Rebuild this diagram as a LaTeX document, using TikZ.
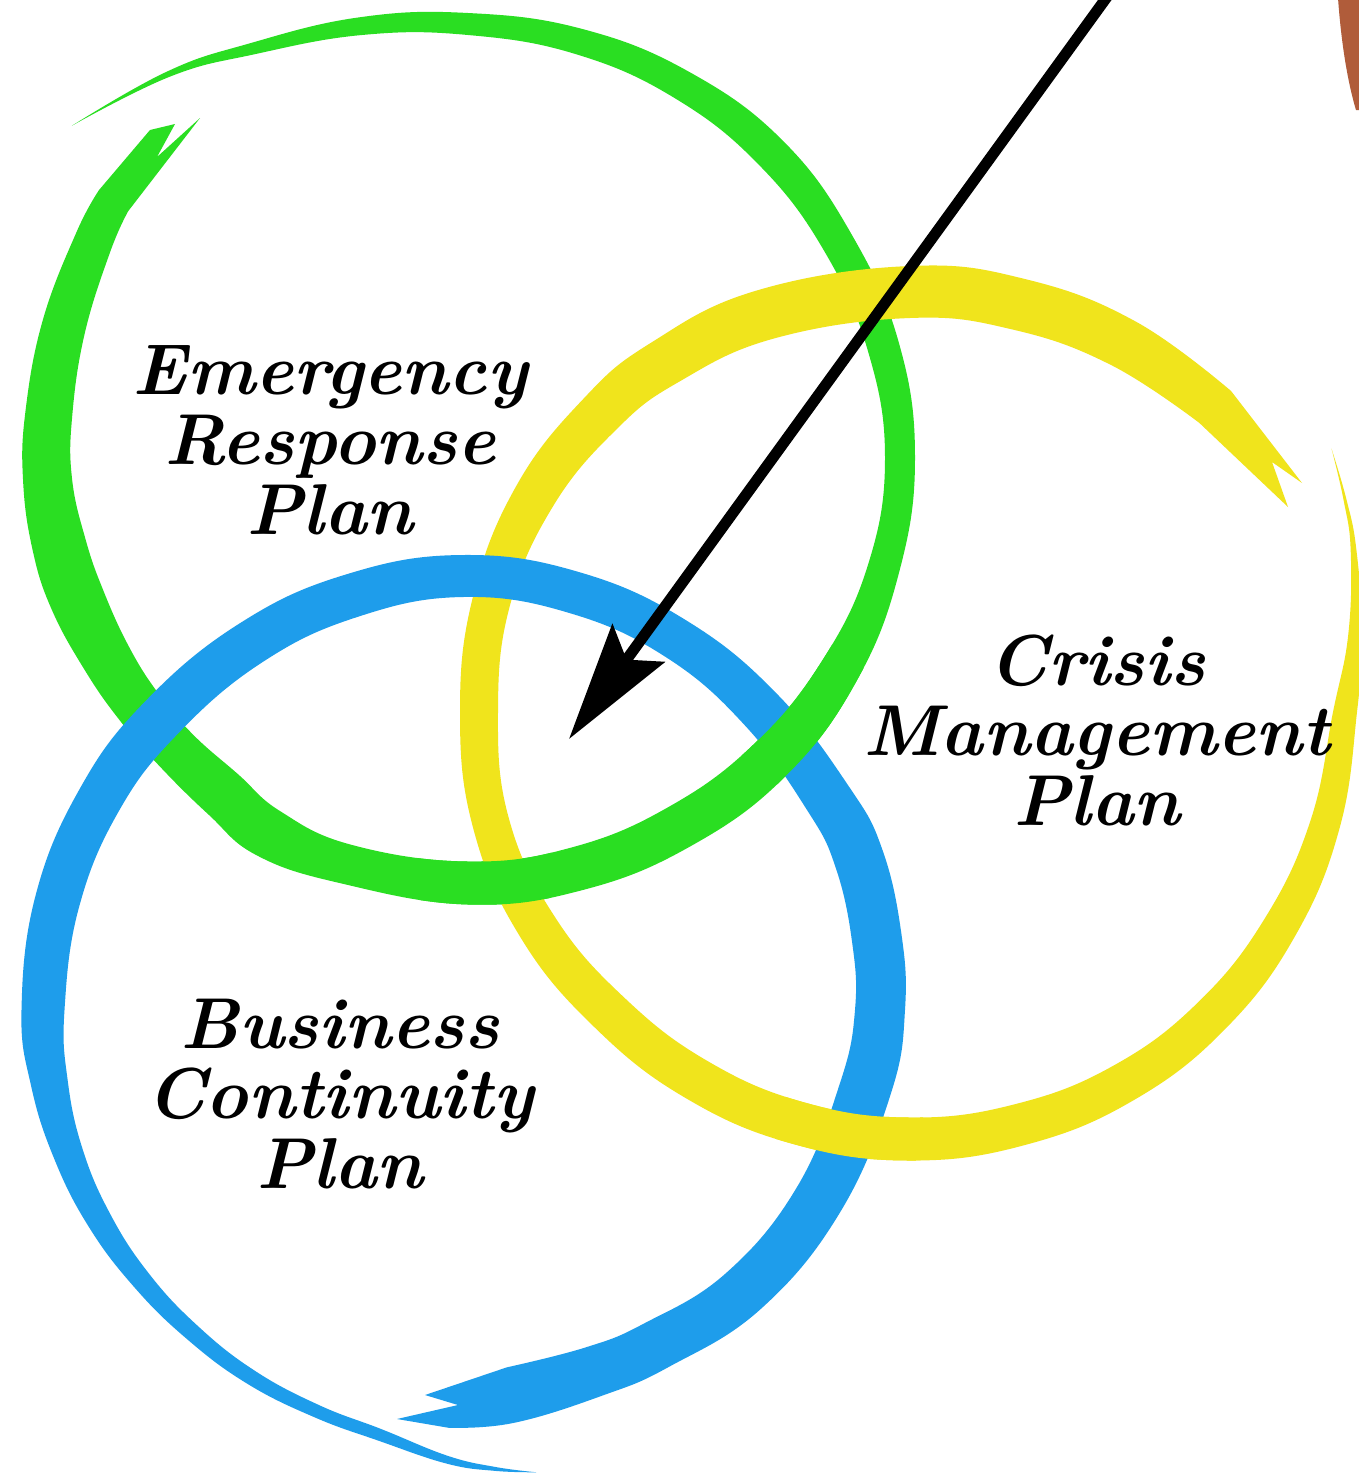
\documentclass[tikz,border=0pt]{standalone}
\usetikzlibrary{arrows.meta}
\definecolor{gcol}{RGB}{42,222,34}
\definecolor{ycol}{RGB}{240,228,28}
\definecolor{bcol}{RGB}{30,157,235}
\definecolor{skin}{RGB}{176,92,58}
\tikzset{
  lbl/.style={align=center,font=\fontsize{72}{70}\selectfont\bfseries\itshape,inner sep=0pt},
  arrowline/.style={line width=11pt,-{Stealth[length=118pt,width=64pt,inset=20pt]}},
  brush/.style={smooth,tension=0.7},
  greenring/.pic={
    \fill[gcol] plot[brush] coordinates {(220:517) (232:490) (242:469) (256:454) (270:445) (285:444) (300:445) (315:447) (330:444) (345:446) (360:447) (375:446) (390:448) (405:449.5) (420:447.5) (435:447) (450:446.5) (466.8:444) (478:450) (486:441) (495:436) (503:436) (511:438) (520:443) (528:445) (537:445.5) (546:445) (558:447) (570:452) (576:456)}
      -- (-318,-328) -- (-293,-334) -- (-311,-301) -- (-268,-340)
      -- plot[brush] coordinates {(576:420) (570:413) (558:403) (546:398) (537:396.5) (528:391) (520:388) (511:388) (503:389) (495:390) (486:391) (478:400) (466.8:404) (450:403.5) (435:403) (420:402.5) (405:404.5) (390:408) (375:414) (360:417) (345:414) (330:412) (315:413) (300:415) (285:418) (270:423) (256:436) (242:457) (232:484) (220:517)} -- cycle;
  },
  yellowring/.pic={
    \fill[ycol] plot[brush] coordinates {(-32:497) (-26:485.5) (-20:475) (-10:459) (0:447) (15:445) (30:445.5) (45:447) (60:448) (75:448) (90:448.5) (105:447.5) (120:446.5) (135:446) (150:450) (165:452) (180:450) (195:452) (210:454) (224:452.5) (235:451) (250:448.5) (270:446) (285:448) (300:451) (315:454)}
      -- (392,-229) -- (362,-250) -- (378,-205)
      -- plot[brush] coordinates {(315:409) (300:401) (285:396) (270:394) (250:397.5) (235:403) (224:407.5) (210:412) (195:414) (180:412) (165:415) (150:410) (135:404) (120:403.5) (105:404.5) (90:405.5) (75:406) (60:408) (45:409) (30:410.5) (15:415) (0:423) (-10:445) (-20:469) (-26:482.5) (-32:497)} -- cycle;
  },
  bluering/.pic={
    \fill[bcol] plot[brush] coordinates {(81:468) (86:462) (92:454) (101:439) (110:433.5) (120:431.5) (130:429.5) (140:430) (150:432.5) (160:435) (170:438.5) (180:441.5) (195:442.5) (210:442.5) (224:443) (240:446.5) (255:451) (270:455) (285:453) (300:449) (315:445.5) (330:446) (339:449) (350:445) (360:442) (371:436) (388:428) (405:422) (420:412) (430:410) (443:416) (452:418)}
      -- (-66,409) -- (-5,395) -- (-38,385)
      -- plot[brush] coordinates {(443:360) (430:359) (420:362) (405:372) (388:378) (371:384) (360:392) (350:395) (339:399) (330:398) (315:400.5) (300:407) (285:411) (270:413) (255:407) (240:401.5) (224:397) (210:397.5) (195:397.5) (180:398.5) (170:401.5) (160:405) (150:407.5) (140:410) (130:412.5) (120:416.5) (110:420.5) (101:427) (92:446) (86:458) (81:468)} -- cycle;
  }
}
\begin{document}
\begin{tikzpicture}[x=1pt,y=-1pt]
\useasboundingbox (0,0) rectangle (1359,1476);
\fill[white] (0,0) rectangle (1359,1476);
\clip (0,0) rectangle (1359,1476);
% hand edge
\fill[skin] (1338,-2) .. controls (1341,40) and (1347,80) .. (1356,110) -- (1362,110) -- (1362,-2) -- cycle;
% rings
\pic at (468,458) {greenring};
\pic at (910,712) {yellowring};
\pic at (463,1010) {bluering};
% woven crossings
\begin{scope}
  \clip (805,715) circle[radius=75];
  \pic at (468,458) {greenring};
\end{scope}
\begin{scope}
  \clip (850,1135) circle[radius=75];
  \pic at (910,712) {yellowring};
\end{scope}
\begin{scope}
  \clip (485,875) circle[radius=70];
  \pic at (468,458) {greenring};
\end{scope}
% labels
\node[lbl] (erp) at (330,440) {Emergency\\Response\\Plan};
\node[lbl] (cmp) at (1097,730) {Crisis\\Management\\Plan};
\node[lbl] (bcp) at (340,1094) {Business\\Continuity\\Plan};
% arrow
\coordinate (arrowtail) at (1112,-10);
\coordinate (arrowtip) at (569,739);
\draw[arrowline] (arrowtail) -- (arrowtip);
\end{tikzpicture}
\end{document}
